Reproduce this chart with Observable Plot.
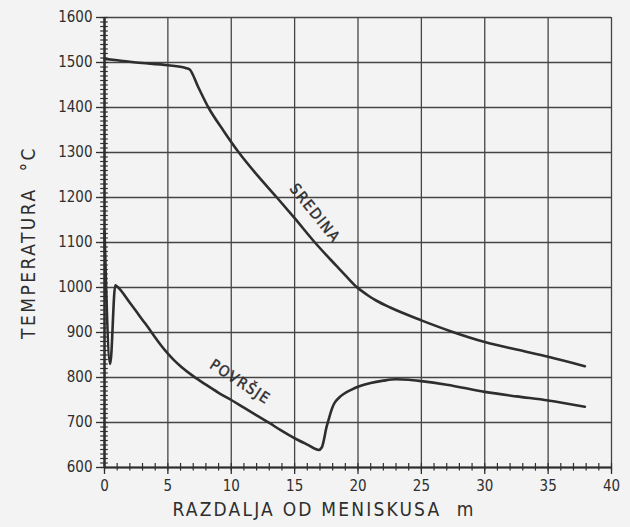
<!DOCTYPE html>
<html><head><meta charset="utf-8">
<script src="https://cdn.jsdelivr.net/npm/d3@7"></script>
<script src="https://cdn.jsdelivr.net/npm/@observablehq/plot@0.6"></script>
<style>body{margin:0;background:#f3f3f3;}</style>
</head><body><div id="chart"></div>
<script>
// Tick values
const xTicks = [0, 5, 10, 15, 20, 25, 30, 35, 40];
const yTicks = [600, 700, 800, 900, 1000, 1100, 1200, 1300, 1400, 1500, 1600];
const xMinor = d3.range(0, 41, 1);
const yMinor = d3.range(600, 1601, 10);

// SREDINA (centre) temperature
const centerX = [0, 1, 2.5, 5, 6.4, 6.7, 7.4, 8.2, 9.4, 10.6, 12.1, 13.6, 15, 16.6, 18.3, 19.1, 19.9, 20.7, 21.5, 22.5, 25, 27.3, 30, 32.5, 35, 37.9];
const centerT = [1508, 1505, 1500, 1494, 1488, 1485, 1445, 1400, 1348, 1300, 1248, 1200, 1154, 1100, 1048, 1024, 1001, 984, 970, 956, 927, 903, 879, 862, 846, 825];

// POVRŠJE (surface) temperature
const surfX = [0, 0.45, 0.85, 1.0, 2, 3, 3.6, 4, 4.5, 5, 5.5, 6, 7, 8, 9, 10, 11, 12, 13, 13.9, 15, 16, 16.9, 17.15, 17.3, 17.5, 17.7, 17.9, 18.1, 18.5, 18.9, 19.5, 20.05, 21, 22, 23, 24, 25, 27, 30, 32.5, 35, 37.9];
const surfT = [1125, 830, 1005, 1002, 966, 928, 905, 889, 870, 853, 838, 825, 803, 784, 766, 750, 733, 716, 699, 683, 665, 651, 639, 645, 660, 688, 708, 727, 741, 755, 764, 773, 780, 788, 793, 796, 795, 792, 784, 768, 758, 749, 735];

const labels = [
  {text: "SREDINA", x: 16.6, y: 1165, rotate: 51},
  {text: "POVRŠJE", x: 10.7, y: 790, rotate: 33}
];
const yTitle = "TEMPERATURA  °C";
const xTitle = "RAZDALJA OD MENISKUSA  m";

const center = centerX.map((x, i) => ({x, y: centerT[i]}));
const surface = surfX.map((x, i) => ({x, y: surfT[i]}));

const ink = "#2e2e2e";
const gridInk = "#454545";
const font = "DejaVu Sans Condensed, DejaVu Sans, sans-serif";

const plot = Plot.plot({
  width: 630,
  height: 527,
  marginLeft: 104,
  marginRight: 19,
  marginTop: 17,
  marginBottom: 60,
  x: {domain: [0, 40]},
  y: {domain: [600, 1600]},
  style: {background: "#f3f3f3", fontFamily: font, color: ink, overflow: "visible"},
  marks: [
    Plot.gridX(xTicks, {stroke: gridInk, strokeOpacity: 1, strokeWidth: 1.3}),
    Plot.gridY(yTicks, {stroke: gridInk, strokeOpacity: 1, strokeWidth: 1.3}),
    Plot.ruleY(yMinor, {y: d => d, x1: () => -0.3, x2: () => 0.3, stroke: ink, strokeWidth: 1.2}),
    Plot.ruleX(xMinor, {x: d => d, y1: () => 592, y2: () => 609, stroke: ink, strokeWidth: 1.2}),
    Plot.axisY(yTicks, {tickSize: 8, tickPadding: 4, fontSize: 15, label: null, tickFormat: d3.format("d"), stroke: ink, strokeWidth: 1.3}),
    Plot.axisX(xTicks, {tickSize: 7, tickPadding: 6, fontSize: 15, label: null, tickFormat: d3.format("d"), stroke: ink, strokeWidth: 1.3}),
    Plot.ruleX([0], {stroke: ink, strokeWidth: 2.5}),
    Plot.ruleY([600], {stroke: ink, strokeWidth: 2}),
    Plot.line(center, {x: "x", y: "y", stroke: ink, strokeWidth: 2.6, curve: "monotone-x"}),
    Plot.line(surface, {x: "x", y: "y", stroke: ink, strokeWidth: 2.6, curve: "monotone-x"}),
    Plot.text(labels, {x: "x", y: "y", text: "text", rotate: "rotate", fontSize: 15, fill: ink, stroke: ink, strokeWidth: 0.4}),
    Plot.text([yTitle], {frameAnchor: "left", textAnchor: "middle", dx: -76, rotate: -90, fontSize: 19, fill: ink}),
    Plot.text([xTitle], {frameAnchor: "bottom", textAnchor: "middle", dx: -34, dy: 48, fontSize: 19, fill: ink})
  ]
});
// letter spacing for the hand-lettered look
d3.select(plot).selectAll("text").each(function() {
  const t = this.textContent;
  if (t === xTitle) this.style.letterSpacing = "2.2px";
  else if (t === yTitle) this.style.letterSpacing = "2.5px";
  else if (t === "SREDINA" || t === "POVRŠJE") this.style.letterSpacing = "1.5px";
});
document.getElementById("chart").append(plot);
</script>
</body></html>
